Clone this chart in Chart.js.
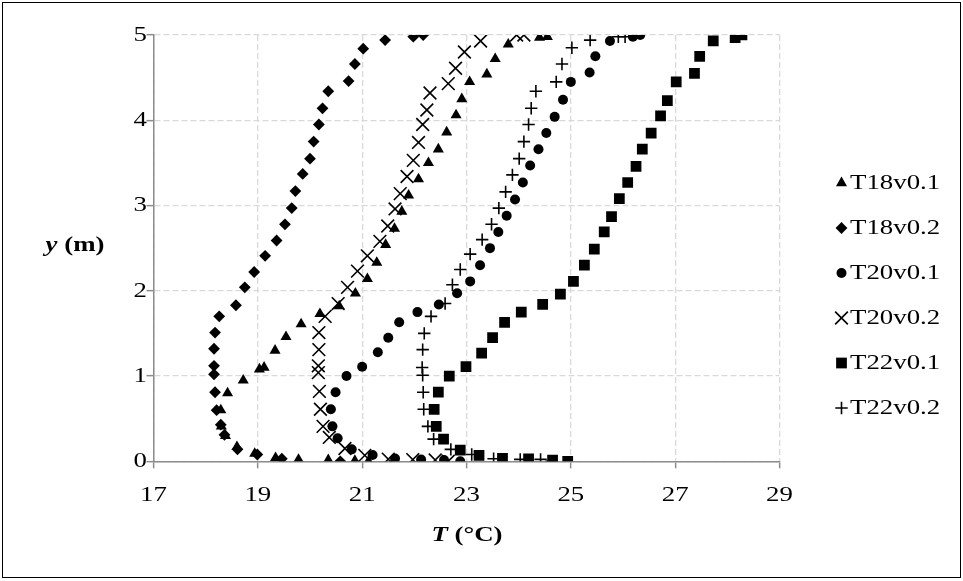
<!DOCTYPE html>
<html>
<head>
<meta charset="utf-8">
<title>Temperature profiles</title>
<script src="https://cdn.jsdelivr.net/npm/chart.js@4/dist/chart.umd.min.js"></script>
<style>
  html, body { margin: 0; padding: 0; background: #fff; }
  #wrap { position: relative; width: 963px; height: 581px; }
  #frame { position: absolute; left: 2px; top: 2px; width: 959px; height: 576px;
           border: 1px solid #000; box-sizing: border-box; pointer-events: none; }
  canvas { position: absolute; left: 0; top: 0; }
</style>
</head>
<body>
<div id="wrap">
  <canvas id="chart" width="963" height="581"></canvas>
  <div id="frame"></div>
</div>
<script>
// Axis ticks
const xTicks = [17, 19, 21, 23, 25, 27, 29];
const yTicks = [0, 1, 2, 3, 4, 5];

// Series names (legend order)
const seriesNames = ['T18v0.1', 'T18v0.2', 'T20v0.1', 'T20v0.2', 'T22v0.1', 'T22v0.2'];

// T18v0.1: temperature (°C) and height (m)
const t18v01T = [24.55, 24.40, 23.80, 23.55, 23.39, 23.06, 22.91, 22.80, 22.62, 22.46,
                 22.27, 22.08, 21.89, 21.76, 21.62, 21.45, 21.28, 21.10, 20.87, 20.56,
                 20.19, 19.83, 19.54, 19.33, 19.12, 19.03, 18.72, 18.42, 18.29, 18.30,
                 18.38, 18.60, 18.94, 19.34, 19.78, 20.35, 20.86, 21.12];
const t18v01Y = [4.98, 4.97, 4.89, 4.72, 4.54, 4.45, 4.25, 4.06, 3.86, 3.66,
                 3.50, 3.31, 3.12, 2.93, 2.73, 2.54, 2.33, 2.14, 1.97, 1.82,
                 1.73, 1.61, 1.46, 1.30, 1.10, 1.08, 0.95, 0.80, 0.60, 0.41,
                 0.30, 0.17, 0.09, 0.04, 0.02, 0.015, 0.007, 0];

// T18v0.2
const t18v02T = [22.17, 21.98, 21.44, 21.02, 20.86, 20.74, 20.35, 20.24, 20.17, 20.07,
                 20.00, 19.86, 19.72, 19.65, 19.52, 19.36, 19.14, 18.93, 18.75, 18.58,
                 18.26, 18.18, 18.16, 18.16, 18.16, 18.18, 18.21, 18.29, 18.36, 18.61,
                 18.99, 19.46, 20.58];
const t18v02Y = [5.00, 4.98, 4.94, 4.84, 4.66, 4.46, 4.34, 4.14, 3.95, 3.75,
                 3.55, 3.37, 3.17, 2.97, 2.78, 2.59, 2.41, 2.22, 2.04, 1.83,
                 1.70, 1.51, 1.32, 1.12, 1.02, 0.81, 0.60, 0.43, 0.31, 0.14,
                 0.08, 0.03, 0];

// T20v0.1
const t20v01T = [26.33, 26.19, 25.75, 25.47, 25.36, 25.00, 24.85, 24.69, 24.53, 24.38,
                 24.22, 24.08, 23.93, 23.77, 23.61, 23.45, 23.26, 23.07, 22.82, 22.47,
                 22.06, 21.71, 21.50, 21.30, 21.00, 20.70, 20.49, 20.40, 20.43, 20.53,
                 20.80, 21.20, 21.63, 22.13, 22.57, 22.88];
const t20v01Y = [5.00, 4.98, 4.93, 4.75, 4.56, 4.45, 4.24, 4.04, 3.85, 3.66,
                 3.47, 3.27, 3.07, 2.88, 2.69, 2.50, 2.30, 2.11, 1.97, 1.84,
                 1.75, 1.63, 1.45, 1.28, 1.11, 1.00, 0.81, 0.61, 0.41, 0.27,
                 0.14, 0.074, 0.033, 0.02, 0.015, 0];

// T20v0.2
const t20v02T = [24.10, 23.96, 23.27, 22.96, 22.79, 22.65, 22.30, 22.24, 22.16, 22.08,
                 21.98, 21.86, 21.73, 21.63, 21.49, 21.34, 21.10, 20.91, 20.72, 20.54,
                 20.29, 20.17, 20.17, 20.16, 20.16, 20.18, 20.20, 20.25, 20.37, 20.67,
                 21.05, 21.50, 21.97, 22.40, 22.65];
const t20v02Y = [5.00, 5.00, 4.93, 4.80, 4.61, 4.43, 4.32, 4.12, 3.95, 3.74,
                 3.53, 3.34, 3.14, 2.96, 2.76, 2.58, 2.41, 2.23, 2.04, 1.85,
                 1.70, 1.51, 1.31, 1.12, 1.04, 0.82, 0.61, 0.41, 0.28, 0.15,
                 0.07, 0.025, 0.02, 0.015, 0];

// T22v0.1
const t22v01T = [28.28, 28.15, 27.73, 27.47, 27.37, 27.02, 26.85, 26.72, 26.54, 26.37,
                 26.25, 26.09, 25.93, 25.78, 25.64, 25.45, 25.26, 25.05, 24.80, 24.46,
                 24.05, 23.73, 23.50, 23.29, 22.99, 22.67, 22.46, 22.38, 22.42, 22.56,
                 22.88, 23.24, 23.69, 24.19, 24.65, 24.94];
const t22v01Y = [5.00, 4.97, 4.93, 4.75, 4.55, 4.45, 4.23, 4.05, 3.85, 3.66,
                 3.46, 3.27, 3.08, 2.87, 2.69, 2.49, 2.30, 2.11, 1.96, 1.84,
                 1.75, 1.63, 1.45, 1.27, 1.11, 1.00, 0.81, 0.61, 0.41, 0.26,
                 0.13, 0.07, 0.035, 0.027, 0.015, 0];

// T22v0.2
const t22v02T = [26.04, 25.91, 25.37, 25.02, 24.83, 24.72, 24.33, 24.24, 24.19, 24.10,
                 24.01, 23.88, 23.75, 23.62, 23.48, 23.30, 23.07, 22.88, 22.73, 22.59,
                 22.32, 22.19, 22.16, 22.15, 22.16, 22.17, 22.18, 22.26, 22.37, 22.70,
                 23.10, 23.52, 24.03, 24.42, 24.63];
const t22v02Y = [4.98, 4.98, 4.94, 4.85, 4.66, 4.45, 4.34, 4.14, 3.95, 3.75,
                 3.55, 3.36, 3.16, 2.97, 2.78, 2.60, 2.43, 2.25, 2.07, 1.85,
                 1.70, 1.50, 1.31, 1.10, 1.01, 0.81, 0.61, 0.41, 0.26, 0.14,
                 0.08, 0.03, 0.023, 0.023, 0];

const SERIF = '"Liberation Serif", "Times New Roman", serif';
const TEXT_STRETCH = 1.22;   // labels are set slightly wide

function pairs(ts, ys) { return ts.map((t, i) => ({ x: t, y: ys[i] })); }

const markerStyles = [
  { pointStyle: 'triangle', radius: 6.4, filled: true },
  { pointStyle: 'rectRot',  radius: 5.9, filled: true },
  { pointStyle: 'circle',   radius: 5.0, filled: true },
  { pointStyle: 'crossRot', radius: 9.0, filled: false },
  { pointStyle: 'rect',     radius: 7.6, filled: true },
  { pointStyle: 'cross',    radius: 6.2, filled: false }
];

const seriesData = [
  pairs(t18v01T, t18v01Y), pairs(t18v02T, t18v02Y),
  pairs(t20v01T, t20v01Y), pairs(t20v02T, t20v02Y),
  pairs(t22v01T, t22v01Y), pairs(t22v02T, t22v02Y)
];

const datasets = seriesNames.map((name, i) => {
  const m = markerStyles[i];
  return {
    label: name,
    data: seriesData[i],
    showLine: false,
    pointStyle: m.pointStyle,
    pointRadius: m.radius,
    pointHoverRadius: m.radius,
    pointBackgroundColor: '#000',
    pointBorderColor: '#000',
    pointBorderWidth: m.filled ? 0 : 1.6
  };
});

// Draws a run of text pieces (different fonts) horizontally widened.
function drawRun(ctx, pieces, x, y, align) {
  ctx.save();
  let w = 0;
  pieces.forEach(p => { ctx.font = p.font; p.w = ctx.measureText(p.text).width; w += p.w; });
  const total = w * TEXT_STRETCH;
  let start = x;
  if (align === 'center') start = x - total / 2;
  else if (align === 'right') start = x - total;
  ctx.translate(start, y);
  ctx.scale(TEXT_STRETCH, 1);
  ctx.fillStyle = '#000';
  ctx.textBaseline = 'middle';
  ctx.textAlign = 'left';
  let cx = 0;
  pieces.forEach(p => { ctx.font = p.font; ctx.fillText(p.text, cx, 0); cx += p.w; });
  ctx.restore();
}

function drawMarker(ctx, style, r, x, y) {
  ctx.save();
  ctx.fillStyle = '#000';
  ctx.strokeStyle = '#000';
  ctx.lineWidth = 1.6;
  ctx.beginPath();
  if (style === 'triangle') {
    for (let k = 0; k < 3; k++) {
      const a = k * 2 * Math.PI / 3;
      const px = x + Math.sin(a) * r, py = y - Math.cos(a) * r;
      k ? ctx.lineTo(px, py) : ctx.moveTo(px, py);
    }
    ctx.closePath(); ctx.fill();
  } else if (style === 'rectRot') {
    ctx.moveTo(x - r, y); ctx.lineTo(x, y - r); ctx.lineTo(x + r, y); ctx.lineTo(x, y + r);
    ctx.closePath(); ctx.fill();
  } else if (style === 'circle') {
    ctx.arc(x, y, r, 0, Math.PI * 2); ctx.fill();
  } else if (style === 'rect') {
    const s = r * Math.SQRT1_2;
    ctx.rect(x - s, y - s, 2 * s, 2 * s); ctx.fill();
  } else if (style === 'crossRot') {
    const s = r * Math.SQRT1_2;
    ctx.moveTo(x - s, y - s); ctx.lineTo(x + s, y + s);
    ctx.moveTo(x + s, y - s); ctx.lineTo(x - s, y + s);
    ctx.stroke();
  } else if (style === 'cross') {
    ctx.moveTo(x - r, y); ctx.lineTo(x + r, y);
    ctx.moveTo(x, y - r); ctx.lineTo(x, y + r);
    ctx.stroke();
  }
  ctx.restore();
}

const labelPlugin = {
  id: 'labels',
  afterDraw(chart) {
    const ctx = chart.ctx;
    const xs = chart.scales.x, ys = chart.scales.y;
    const tickFont = '22px ' + SERIF;
    xTicks.forEach(v => drawRun(ctx, [{ text: String(v), font: tickFont }], xs.getPixelForValue(v), 495, 'center'));
    yTicks.forEach(v => drawRun(ctx, [{ text: String(v), font: tickFont }], 147, ys.getPixelForValue(v), 'right'));

    // axis titles
    drawRun(ctx, [
      { text: 'T', font: 'italic bold 22px ' + SERIF },
      { text: ' (°C)', font: 'bold 22px ' + SERIF }
    ], 467, 535, 'center');
    drawRun(ctx, [
      { text: 'y', font: 'italic bold 22px ' + SERIF },
      { text: ' (m)', font: 'bold 22px ' + SERIF }
    ], 75, 245, 'center');

    // legend
    const legendTop = 183, legendStep = 45;
    seriesNames.forEach((name, i) => {
      const y = legendTop + i * legendStep;
      const m = markerStyles[i];
      drawMarker(ctx, m.pointStyle, m.radius, 841.5, y);
      drawRun(ctx, [{ text: name, font: '22px ' + SERIF }], 850, y, 'left');
    });
  }
};

const chartAreaBox = { left: 153.5, right: 779.5, top: 35, bottom: 461.3 };

new Chart(document.getElementById('chart'), {
  type: 'scatter',
  data: { datasets },
  options: {
    responsive: false,
    animation: false,
    devicePixelRatio: 1,
    layout: { padding: { left: 0, right: 963 - chartAreaBox.right, top: chartAreaBox.top, bottom: 0 } },
    plugins: { legend: { display: false }, tooltip: { enabled: false } },
    scales: {
      x: {
        type: 'linear', min: 17, max: 29,
        afterBuildTicks(s) { s.ticks = xTicks.map(v => ({ value: v })); },
        afterFit(s) { s.height = 581 - chartAreaBox.bottom; },
        ticks: { display: false },
        grid: { color: '#d9d9d9', lineWidth: 1.3, tickColor: '#8c8c8c', tickLength: 7, tickWidth: 1.5 },
        border: { color: '#8c8c8c', width: 1.5, dash: [6, 3] }
      },
      y: {
        type: 'linear', min: 0, max: 5,
        afterBuildTicks(s) { s.ticks = yTicks.map(v => ({ value: v })); },
        afterFit(s) { s.width = chartAreaBox.left; },
        ticks: { display: false },
        grid: { color: '#d9d9d9', lineWidth: 1.3, tickColor: '#8c8c8c', tickLength: 7, tickWidth: 1.5 },
        border: { color: '#8c8c8c', width: 1.5, dash: [6, 3] }
      }
    }
  },
  plugins: [labelPlugin]
});
</script>
</body>
</html>
